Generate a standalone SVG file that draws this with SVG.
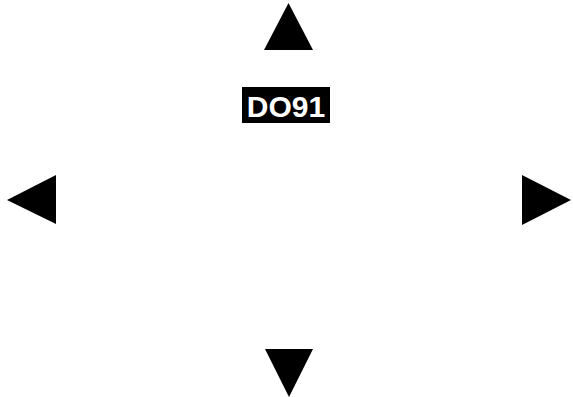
<svg xmlns="http://www.w3.org/2000/svg" width="573" height="397" viewBox="0 0 573 397">
<style>
.arrow{fill:#000;stroke:none}
.lbl{font-family:"Liberation Sans",Arial,sans-serif;font-weight:bold;font-size:30px;fill:#fff;text-anchor:middle}
</style>
<rect width="573" height="397" fill="#fff"/>
<g id="arrows">
<polygon id="up" class="arrow" points="264,50 288.5,3 313,50"/>
<polygon id="left" class="arrow" points="7,200 56,175 56,224"/>
<polygon id="right" class="arrow" points="522,175 571,200 522,225"/>
<polygon id="down" class="arrow" points="265,349 313,349 289,397"/>
</g>
<g id="label">
<rect x="242" y="87" width="88" height="36" fill="#000"/>
<text class="lbl" x="286" y="117">DO91</text>
</g>
</svg>
